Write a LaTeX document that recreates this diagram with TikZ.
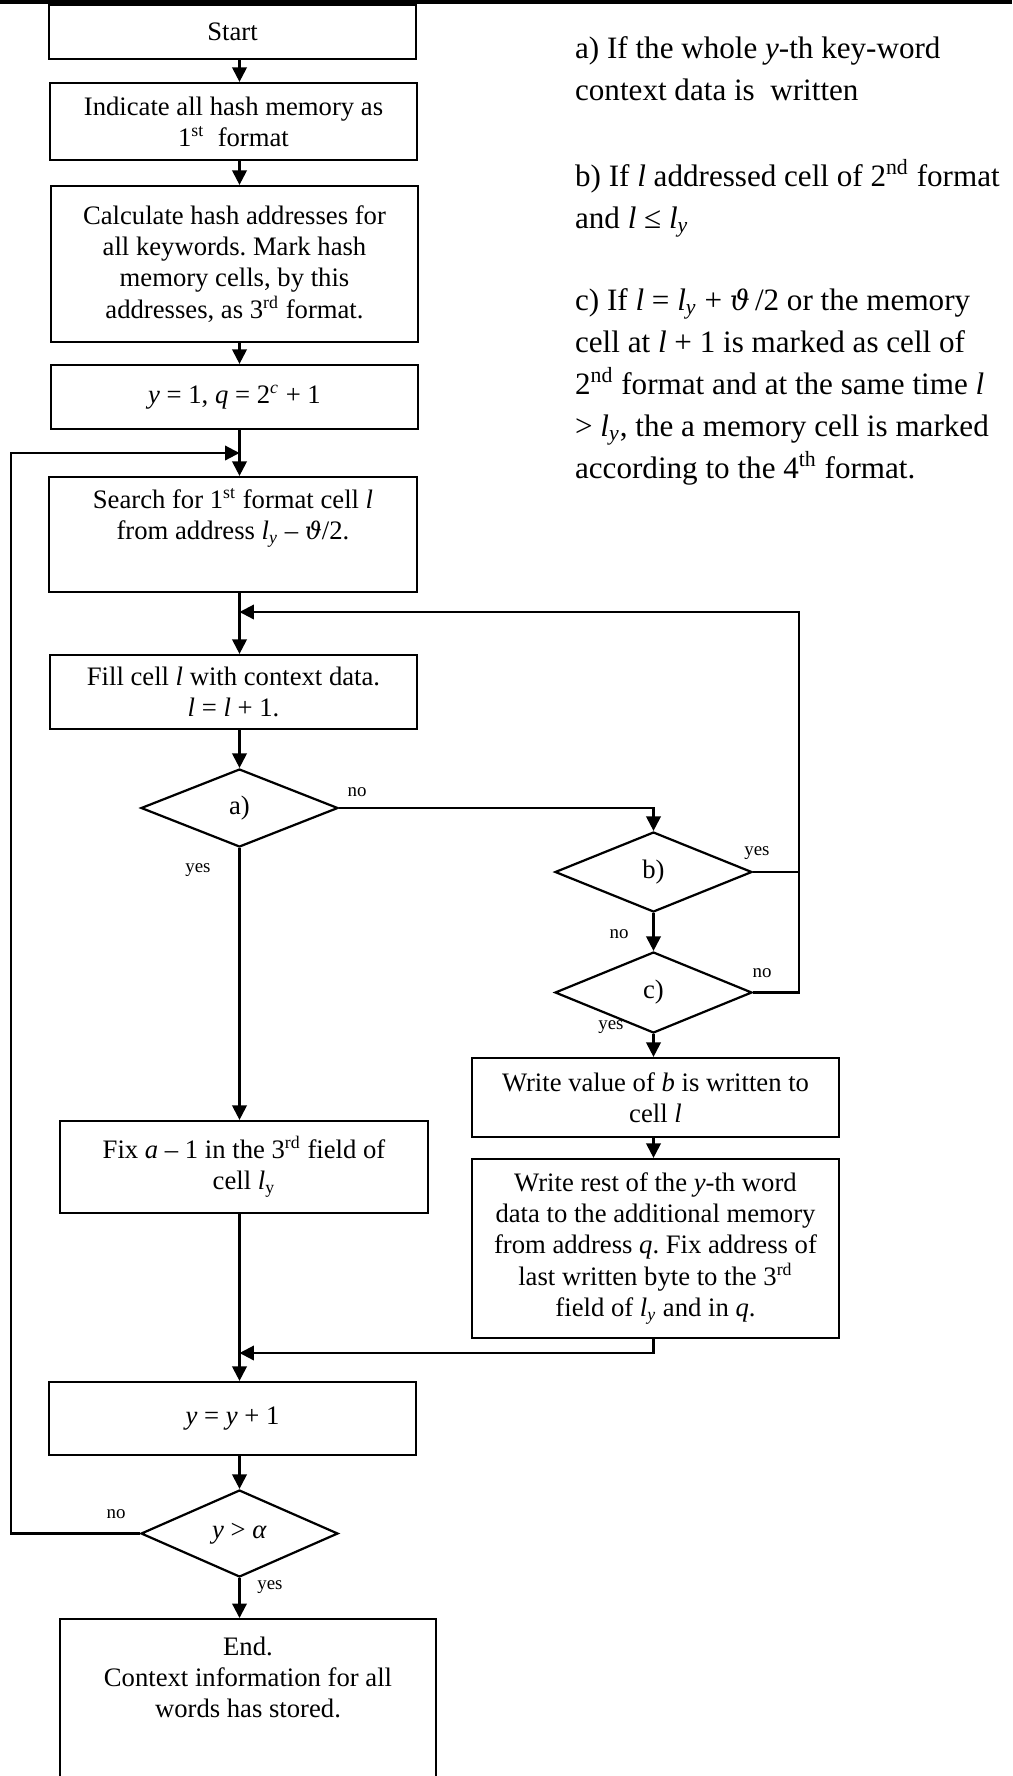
\documentclass[tikz,border=0pt]{standalone}
\usepackage{fontspec}
\setmainfont{Liberation Serif}
\newfontfamily\greekfont[Scale=0.9]{DejaVu Serif}
\usetikzlibrary{shapes.geometric,arrows.meta}
\newcommand{\vv}[1]{\textit{#1}}
\newcommand{\vth}{{\greekfont\itshape ϑ}}
\frenchspacing
\tikzset{
    wh/.style 2 args={minimum width=#1*0.45pt, minimum height=#2*0.45pt}
}

\begin{document}
\begin{tikzpicture}[
    x=0.45pt, y=-0.45pt,
    line width=1pt,
    >={Triangle[length=6.5pt,width=6.5pt]},
    box/.style={draw=black, rectangle, align=center, inner sep=0pt,
        font=\fontsize{12}{14}\selectfont},
    cond/.style={draw=black, diamond, inner sep=0pt,
        font=\fontsize{12}{14}\selectfont},
    lbl/.style={inner sep=0pt, font=\fontsize{8.5}{10}\selectfont},
    note/.style={anchor=base west, align=left, inner sep=0pt,
        font=\fontsize{14}{18.9}\selectfont}]
    \useasboundingbox (0,0) rectangle (1012,1776);
    \fill (0,0) rectangle (1012,4);

    % NODES
    % main column
    \coordinate (axis) at (239.5,0);
    \node[box, wh={367}{54}] (Start) at (232.5,32) {Start};
    \node[box, wh={367}{77}] (Ind) at (233.5,121.5)
        {Indicate all hash memory as\\1\textsuperscript{st}~ format};
    \node[box, wh={367}{156}] (Calc) at (234.5,264)
        {Calculate hash addresses for\\all keywords. Mark hash\\memory cells, by this\\addresses, as 3\textsuperscript{rd} format.};
    \node[box, wh={367}{64}] (Init) at (234.5,397)
        {\vv{y} = 1, \vv{q} = 2\textsuperscript{\vv{c}} + 1};
    \node[box, wh={368}{115}] (Search) at (233,534.5)
        {Search for 1\textsuperscript{st} format cell \vv{l}\\from address \vv{l}\textsubscript{\vv{y}} – \vth/2.\\\strut};
    \node[box, wh={367}{74}] (Fill) at (233.5,692)
        {Fill cell \vv{l} with context data.\\\vv{l} = \vv{l} + 1.};
    % condition a)
    \node[cond, wh={197}{78}] (CondA) at (239.5,808) {a)};
    % right column
    \node[cond, wh={197}{80}] (CondB) at (653.5,872) {b)};
    \node[cond, wh={197}{81}] (CondC) at (653.5,992.5) {c)};
    \node[box, wh={367}{79}] (WriteB) at (655.5,1097.5)
        {Write value of \vv{b} is written to\\cell \vv{l}};
    \node[box, wh={367}{179}] (WriteRest) at (655.5,1248.5)
        {Write rest of the \vv{y}-th word\\data to the additional memory\\from address \vv{q}. Fix address of\\last written byte to the 3\textsuperscript{rd}\\field of \vv{l}\textsubscript{\vv{y}} and in \vv{q}.};
    % left column, lower part
    \node[box, wh={368}{92}] (Fix) at (244,1167)
        {Fix \vv{a} – 1 in the 3\textsuperscript{rd} field of\\cell \vv{l}\textsubscript{y}};
    \node[box, wh={367}{73}] (Inc) at (232.5,1418.5) {\vv{y} = \vv{y} + 1};
    \node[cond, wh={197}{87}] (CondY) at (239.5,1533.5) {\vv{y} > \vv{α}};
    \node[box, anchor=north, minimum width=376*0.45pt, inner ysep=8pt,
        text depth=80pt] (End) at (248,1618)
        {End.\\Context information for all\\words has stored.};

    % notes (anchored at the baseline of their last line)
    \node[note] (noteA) at (574,100)
        {a) If the whole \vv{y}-th key-word\\context data is~ written};
    \node[note] (noteB) at (574,228)
        {b) If \vv{l} addressed cell of 2\textsuperscript{nd} format\\and \vv{l} ≤ \vv{l}\textsubscript{\vv{y}}};
    \node[note] (noteC) at (574,478)
        {c) If \vv{l} = \vv{l}\textsubscript{\vv{y}} + \vth\,/2 or the memory\\cell at \vv{l} + 1 is marked as cell of\\2\textsuperscript{nd} format and at the same time \vv{l}\\> \vv{l}\textsubscript{\vv{y}}, the a memory cell is marked\\according to the 4\textsuperscript{th} format.};

    % labels
    \node[lbl] (noA) at (357,792) {no};
    \node[lbl] (yesA) at (198,870) {yes};
    \node[lbl] (yesB) at (757,853) {yes};
    \node[lbl] (noB) at (619,934) {no};
    \node[lbl] (noC) at (762,973) {no};
    \node[lbl] (yesC) at (611,1027) {yes};
    \node[lbl] (noY) at (116,1514) {no};
    \node[lbl] (yesY) at (270,1587) {yes};

    % junctions
    \coordinate (entry) at (239.5,453);
    \coordinate (outer) at (11,453);
    \coordinate (inner) at (239.5,612);
    \coordinate (back) at (799,612);
    \coordinate (merge) at (239.5,1353);

    % ARROWS
    \draw[->] (Start.south -| axis) -- (Ind.north -| axis);
    \draw[->] (Ind.south -| axis) -- (Calc.north -| axis);
    \draw[->] (Calc.south -| axis) -- (Init.north -| axis);
    \draw[->] (Init.south -| axis) -- (Search.north -| axis);
    \draw[->] (Search.south -| axis) -- (Fill.north -| axis);
    \draw[->] (Fill.south -| axis) -- (CondA.north);
    \draw[->] (CondA.east) -| (CondB.north);
    \draw[->] (CondB.south) -- (CondC.north);
    \draw (CondB.east) -- (CondB.east -| back);
    \draw[->] (CondC.east) -| (back) -- (inner);
    \draw[->] (CondC.south) -- (CondC.south |- WriteB.north);
    \draw[->] (WriteB.south -| CondC) -- (WriteRest.north -| CondC);
    \draw[->] (WriteRest.south -| CondC) |- (merge);
    \draw[->] (CondA.south) -- (Fix.north -| axis);
    \draw[->] (Fix.south -| axis) -- (Inc.north -| axis);
    \draw[->] (Inc.south -| axis) -- (CondY.north);
    \draw[->] (CondY.south) -- (End.north -| axis);
    \draw[->] (CondY.west) -| (outer) -- (entry);
\end{tikzpicture}
\end{document}
